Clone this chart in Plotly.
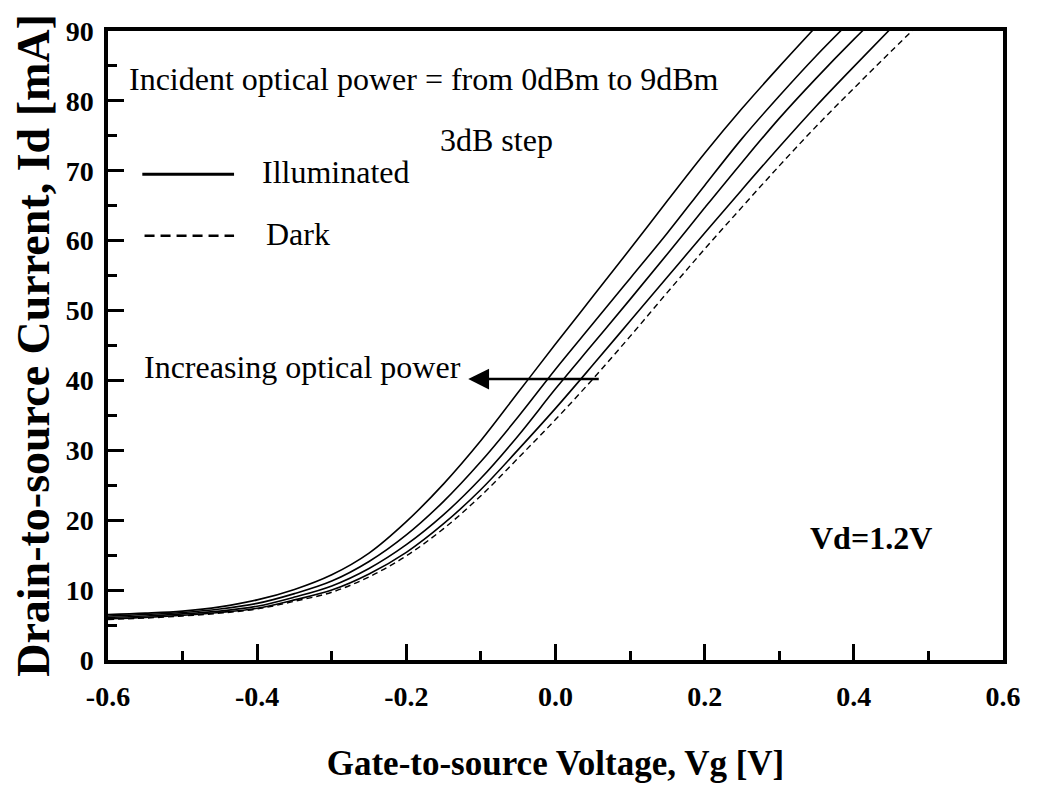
import plotly.graph_objects as go

# Gate-to-source voltage samples [V]
vg = [-0.6, -0.55, -0.5, -0.45, -0.4, -0.35, -0.3, -0.25, -0.2, -0.15, -0.1,
      -0.05, 0.0, 0.05, 0.1, 0.15, 0.2, 0.25, 0.3, 0.35, 0.4, 0.45, 0.5]

# Drain current [mA], illuminated (9, 6, 3, 0 dBm) and dark
id_9dbm = [6.5, 6.7, 7.0, 7.6, 8.6, 10.1, 12.2, 15.3, 19.8, 25.2, 31.4,
           38.3, 45.2, 52.0, 58.8, 65.7, 72.5, 78.9, 84.9, 90.7]
id_6dbm = [6.3, 6.5, 6.8, 7.3, 8.1, 9.5, 11.3, 14.1, 17.9, 22.7, 28.4,
           34.8, 41.6, 48.1, 54.6, 61.1, 67.9, 74.6, 80.7, 86.5, 91.9]
id_3dbm = [6.1, 6.3, 6.6, 7.0, 7.7, 9.0, 10.6, 13.1, 16.5, 20.8, 26.0,
           32.1, 38.8, 45.2, 51.6, 58.1, 64.7, 71.2, 77.5, 83.3, 88.8, 94.0]
id_0dbm = [5.9, 6.1, 6.4, 6.8, 7.4, 8.6, 10.0, 12.3, 15.4, 19.5, 24.4,
           30.1, 36.0, 42.2, 48.5, 54.8, 61.1, 67.3, 73.4, 79.3, 84.9, 90.4]
id_dark = [5.8, 6.0, 6.3, 6.7, 7.3, 8.4, 9.7, 11.9, 14.9, 18.8, 23.5,
           28.9, 34.4, 40.2, 46.3, 52.6, 58.8, 64.8, 70.7, 76.4, 81.8, 87.1, 92.3]

illuminated = [("9dBm", id_9dbm), ("6dBm", id_6dbm), ("3dBm", id_3dbm), ("0dBm", id_0dbm)]

x_ticks = [-0.6, -0.4, -0.2, 0.0, 0.2, 0.4, 0.6]
y_ticks = [0, 10, 20, 30, 40, 50, 60, 70, 80, 90]

SERIF = "Liberation Serif"

fig = go.Figure()
for name, vals in illuminated:
    fig.add_trace(go.Scatter(
        x=vg[:len(vals)], y=vals, mode="lines", name="Illuminated " + name,
        line=dict(color="black", width=1.6, shape="spline", smoothing=1.0),
        showlegend=False))
fig.add_trace(go.Scatter(
    x=vg[:len(id_dark)], y=id_dark, mode="lines", name="Dark",
    line=dict(color="black", width=1.4, dash="6px,4px", shape="spline", smoothing=1.0),
    showlegend=False))

axis_common = dict(
    showgrid=False, zeroline=False, showline=True, linecolor="black",
    linewidth=3.5, mirror=True, ticks="inside", tickcolor="black",
    tickwidth=3, ticklen=16, automargin=False,
    tickfont=dict(family=SERIF, size=28, color="black", weight="bold"),
)

fig.update_xaxes(
    range=[-0.6, 0.6], tickvals=x_ticks, ticktext=["%.1f" % v for v in x_ticks],
    minor=dict(dtick=0.1, ticks="inside", ticklen=9, tickwidth=3, tickcolor="black"),
    ticklabelstandoff=9,
    title=dict(text="Gate-to-source Voltage, Vg [V]", standoff=40,
               font=dict(family=SERIF, size=35, color="black", weight="bold")),
    **axis_common)
fig.update_yaxes(
    range=[0, 90], tickvals=y_ticks,
    minor=dict(dtick=5, ticks="inside", ticklen=9, tickwidth=3, tickcolor="black"),
    ticklabelstandoff=5,
    title=dict(text="Drain-to-source Current, Id [mA]", standoff=14,
               font=dict(family=SERIF, size=46, color="black", weight="bold")),
    **axis_common)

txt = dict(family=SERIF, size=32, color="black")
annots = [
    dict(x=-0.574, y=83.1, text="Incident optical power = from 0dBm to 9dBm"),
    dict(x=-0.157, y=74.4, text="3dB step"),
    dict(x=-0.396, y=69.8, text="Illuminated"),
    dict(x=-0.391, y=60.9, text="Dark"),
    dict(x=-0.555, y=41.9, text="Increasing optical power"),
]
for a in annots:
    fig.add_annotation(xref="x", yref="y", xanchor="left", yanchor="middle",
                       showarrow=False, font=txt, **a)
fig.add_annotation(xref="x", yref="y", x=0.338, y=17.5, xanchor="left", yanchor="middle",
                   text="Vd=1.2V", showarrow=False,
                   font=dict(family=SERIF, size=32, color="black", weight="bold"))
# arrow
fig.add_annotation(xref="x", yref="y", axref="x", ayref="y",
                   x=-0.117, y=40.2, ax=0.06, ay=40.2, text="",
                   showarrow=True, arrowhead=2, arrowsize=1.6, arrowwidth=2.6,
                   arrowcolor="black")

# legend samples
fig.add_shape(type="line", xref="x", yref="y", x0=-0.554, x1=-0.431, y0=69.5, y1=69.5,
              line=dict(color="black", width=3))
fig.add_shape(type="line", xref="x", yref="y", x0=-0.551, x1=-0.431, y0=60.7, y1=60.7,
              line=dict(color="black", width=2.5, dash="10px,6px"))

# the page body adds an 8 px offset; size the figure so it fits the window
fig.update_layout(
    width=1042, height=787,
    margin=dict(l=100, r=47, t=23, b=135),
    paper_bgcolor="white", plot_bgcolor="white",
    font=dict(family=SERIF, color="black"),
)

fig.write_html("out.html")
